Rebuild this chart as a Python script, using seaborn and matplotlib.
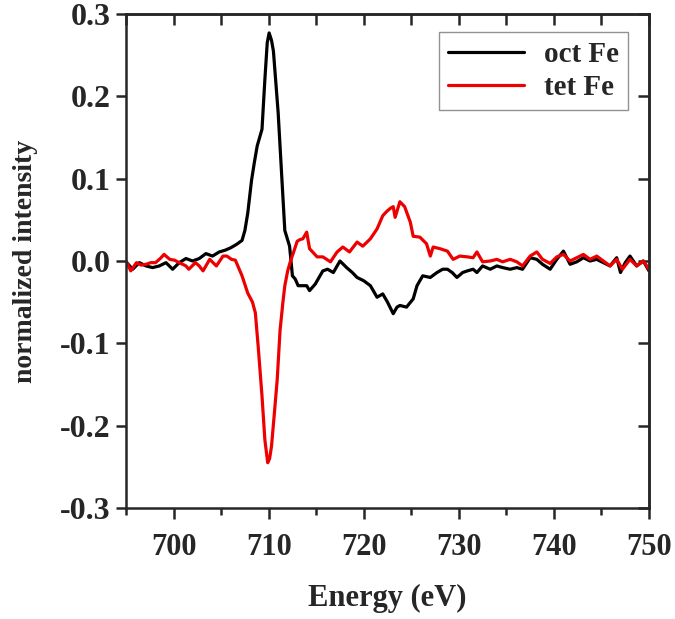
import pandas as pd
import matplotlib
matplotlib.use("Agg")
import matplotlib.pyplot as plt
import seaborn as sns
from matplotlib.ticker import MultipleLocator

# oct Fe spectrum
oct_energy = [695.0, 695.7, 696.4, 697.1, 697.8, 698.5, 699.2, 699.9, 700.6, 701.3,
              702.0, 702.7, 703.4, 704.1, 704.8, 705.4, 706.0, 706.6, 707.2, 707.5,
              707.8, 708.2, 708.5, 708.8, 709.3, 709.6, 709.85, 710.05, 710.3, 710.5,
              711.0, 711.4, 711.7, 712.2, 712.5, 712.8, 713.1, 713.6, 714.0, 714.3,
              714.9, 715.3, 715.7, 716.2, 716.8, 717.5, 718.2, 718.8, 719.3, 720.0,
              720.7, 721.4, 722.0, 722.5, 723.1, 723.5, 723.8, 724.5, 725.2, 725.6,
              726.2, 727.0, 727.7, 728.3, 728.8, 729.3, 729.8, 730.4, 730.9, 731.5,
              731.9, 732.5, 733.3, 734.0, 734.6, 735.4, 736.1, 736.7, 737.5, 738.2,
              738.8, 739.6, 740.3, 741.0, 741.7, 742.4, 743.1, 743.8, 744.5, 745.2,
              745.9, 746.6, 747.0, 747.5, 748.0, 748.7, 749.4, 750.0]
oct_intensity = [-0.001, -0.010, -0.002, -0.006, -0.008, -0.006, -0.002, -0.010, -0.002, 0.003,
                 0.000, 0.003, 0.009, 0.006, 0.011, 0.013, 0.016, 0.020, 0.025, 0.037,
                 0.058, 0.098, 0.120, 0.140, 0.160, 0.220, 0.265, 0.277, 0.268, 0.255,
                 0.180, 0.098, 0.037, 0.018, -0.018, -0.022, -0.030, -0.030, -0.030, -0.036,
                 -0.028, -0.020, -0.012, -0.010, -0.014, 0.000, -0.008, -0.014, -0.020, -0.024,
                 -0.030, -0.044, -0.040, -0.050, -0.064, -0.056, -0.054, -0.056, -0.046, -0.030,
                 -0.018, -0.020, -0.014, -0.010, -0.010, -0.014, -0.020, -0.014, -0.012, -0.010,
                 -0.014, -0.006, -0.010, -0.006, -0.008, -0.010, -0.008, -0.010, 0.004, 0.002,
                 -0.004, -0.010, 0.002, 0.012, -0.004, -0.001, 0.004, 0.000, 0.002, -0.002,
                 -0.006, 0.004, -0.014, -0.002, 0.006, -0.006, 0.000, -0.012]

# tet Fe spectrum
tet_energy = [695.0, 695.5, 696.1, 696.6, 697.1, 697.6, 698.1, 698.6, 699.0, 699.6,
              700.1, 700.6, 701.3, 701.6, 702.3, 702.7, 703.1, 703.8, 704.5, 705.2,
              705.6, 706.1, 706.5, 707.2, 707.8, 708.3, 708.6, 708.9, 709.3, 709.6,
              709.9, 710.1, 710.3, 710.6, 710.9, 711.2, 711.5, 711.7, 712.0, 712.3,
              712.6, 713.0, 713.3, 713.6, 714.0, 714.3, 714.7, 715.1, 715.7, 716.1,
              716.5, 717.2, 717.8, 718.5, 719.3, 719.9, 720.7, 721.4, 722.0, 722.4,
              722.8, 723.1, 723.3, 723.8, 724.3, 724.9, 725.2, 725.9, 726.6, 727.0,
              727.3, 728.0, 728.8, 729.4, 730.1, 730.9, 731.5, 731.9, 732.5, 733.3,
              734.0, 734.6, 735.4, 736.1, 736.7, 737.5, 738.2, 738.8, 739.6, 740.3,
              741.0, 741.7, 742.4, 743.1, 743.8, 744.5, 745.2, 745.9, 746.6, 747.2,
              748.0, 748.7, 749.4, 750.0]
tet_intensity = [0.000, -0.012, -0.002, -0.005, -0.004, -0.002, -0.002, 0.003, 0.008, 0.002,
                 0.001, -0.002, -0.006, -0.010, -0.002, -0.006, -0.012, 0.002, -0.006, 0.006,
                 0.006, 0.002, 0.001, -0.018, -0.039, -0.050, -0.063, -0.104, -0.164, -0.217,
                 -0.245, -0.240, -0.225, -0.185, -0.144, -0.084, -0.050, -0.030, -0.012, 0.000,
                 0.010, 0.024, 0.026, 0.027, 0.035, 0.015, 0.010, 0.005, 0.005, 0.002,
                 -0.001, 0.011, 0.017, 0.011, 0.023, 0.018, 0.027, 0.039, 0.055, 0.060,
                 0.064, 0.066, 0.053, 0.072, 0.066, 0.047, 0.030, 0.029, 0.021, 0.006,
                 0.017, 0.015, 0.012, 0.002, 0.006, 0.005, 0.004, 0.011, -0.001, 0.000,
                 0.002, -0.001, 0.002, -0.001, -0.006, 0.006, 0.011, 0.002, -0.003, 0.005,
                 0.008, 0.000, 0.004, 0.008, 0.002, 0.006, 0.000, -0.006, 0.002, -0.010,
                 0.002, -0.006, 0.000, -0.010]

sns.set_style("ticks")
plt.rcParams['font.family'] = ['Liberation Serif', 'DejaVu Serif']
plt.rcParams['font.weight'] = 'bold'
plt.rcParams['axes.linewidth'] = 1.8

df_oct = pd.DataFrame({"Energy": oct_energy, "Intensity": oct_intensity})
df_tet = pd.DataFrame({"Energy": tet_energy, "Intensity": tet_intensity})

fig = plt.figure(figsize=(6.75, 6.19), dpi=100)
ax = fig.add_axes([0.1867, 0.1793, 0.7748, 0.7981])

sns.lineplot(data=df_oct, x="Energy", y="Intensity", color="black", lw=2.3,
             label="oct Fe", ax=ax, estimator=None, sort=False)
sns.lineplot(data=df_tet, x="Energy", y="Intensity", color="#ee0000", lw=2.3,
             label="tet Fe", ax=ax, estimator=None, sort=False)

ax.set_xlim(695, 750)
ax.set_ylim(-0.3, 0.3)
ax.xaxis.set_major_locator(MultipleLocator(10))
ax.xaxis.set_minor_locator(MultipleLocator(5))
ax.yaxis.set_major_locator(MultipleLocator(0.1))
ax.yaxis.set_major_formatter(plt.FuncFormatter(lambda v, p: f"{v:.1f}"))
ax.tick_params(axis="x", which="major", direction="out", length=8, width=1.8,
               labelsize=22, pad=10)
ax.tick_params(axis="x", which="minor", direction="out", length=5, width=1.8)
ax.tick_params(axis="y", which="major", direction="out", length=7, width=1.8,
               labelsize=23, pad=4)

# inward ticks on the top and right
top = ax.secondary_xaxis("top")
top.xaxis.set_major_locator(MultipleLocator(5))
top.tick_params(direction="in", length=8, width=1.8, labeltop=False)
right = ax.secondary_yaxis("right")
right.yaxis.set_major_locator(MultipleLocator(0.1))
right.tick_params(direction="in", length=8, width=1.8, labelright=False)

ax.set_xlabel("Energy (eV)", fontsize=22, fontweight="bold", labelpad=16)
ax.set_ylabel("normalized intensity", fontsize=20, fontweight="bold", labelpad=16)

leg = ax.legend(loc="upper right", bbox_to_anchor=(0.930, 0.948),
                bbox_transform=fig.transFigure, fontsize=21, frameon=True,
                fancybox=False, edgecolor="#777777", handlelength=2.6,
                borderaxespad=0, borderpad=0.3, labelspacing=0.2,
                handletextpad=0.7)
leg.get_frame().set_linewidth(1.0)
for line in leg.get_lines():
    line.set_linewidth(2.3)

plt.savefig("out.png", dpi=100)
